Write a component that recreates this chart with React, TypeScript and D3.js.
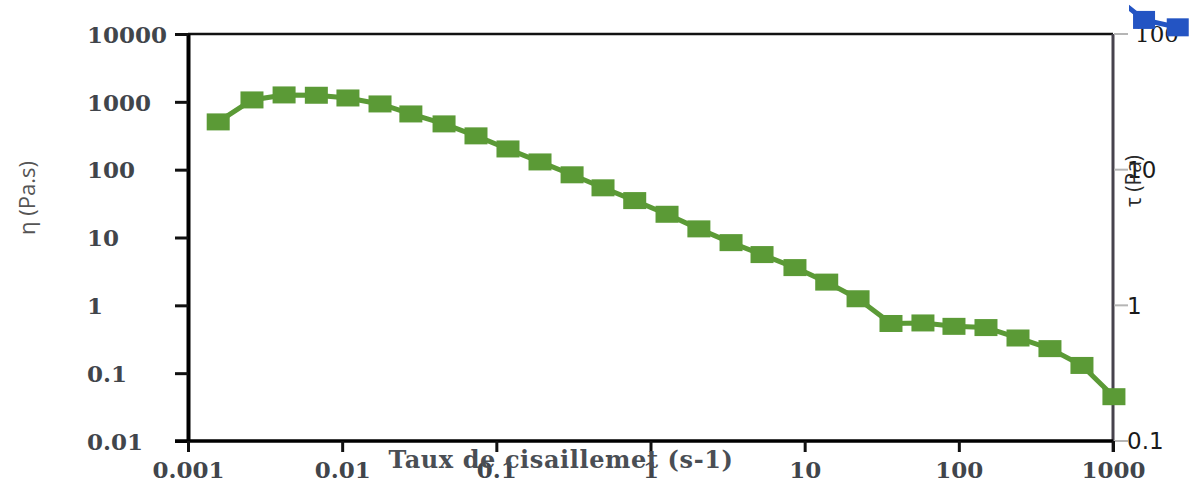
import React from "react";
import * as d3 from "d3";

// shear rate (s-1) and viscosity eta (Pa.s)
const shearRate = [
  0.00157, 0.0026, 0.0042, 0.0068, 0.0109, 0.0176, 0.0279, 0.0458, 0.0738,
  0.119, 0.192, 0.31, 0.492, 0.79, 1.28, 2.06, 3.33, 5.29, 8.65, 13.9, 22.2,
  36.3, 58.5, 93, 150, 242, 390, 629, 1014,
];
const viscosity = [
  506, 1067, 1264, 1250, 1140, 931, 663, 473, 315, 202, 130, 84, 54, 35, 22,
  13.4, 8.4, 5.6, 3.6, 2.2, 1.25, 0.54, 0.55, 0.49, 0.47, 0.33, 0.23, 0.13,
  0.045,
];

// tau series (right axis) - only its start shows, top right corner
const tauShearRate = [1077, 1590, 2630];
const tauStress = [181, 127, 112];

const xTicks = [0.001, 0.01, 0.1, 1, 10, 100, 1000];
const xTickLabels = ["0.001", "0.01", "0.1", "1", "10", "100", "1000"];
const etaTicks = [10000, 1000, 100, 10, 1, 0.1, 0.01];
const etaTickLabels = ["10000", "1000", "100", "10", "1", "0.1", "0.01"];
const tauTicks = [100, 10, 1, 0.1];
const tauTickLabels = ["100", "10", "1", "0.1"];

const xTitle = "Taux de cisaillemet (s-1)";
const etaTitle = "η (Pa.s)";
const tauTitle = "τ (Pa)";

const W = 1192;
const H = 483;

const App = () => {
  const svgRef = React.useRef<SVGSVGElement>(null);

  React.useEffect(() => {
    const svg = d3.select(svgRef.current);
    svg.selectAll("*").remove();

    const left = 188;
    const right = 1113;
    const top = 34;
    const bottom = 441;

    const x = d3.scaleLog().domain([0.001, 1000]).range([left, right]);
    const yEta = d3.scaleLog().domain([0.01, 10000]).range([bottom, top]);
    const yTau = d3.scaleLog().domain([0.1, 100]).range([bottom, top]);

    const serif = "'DejaVu Serif', serif";
    const sans = "'DejaVu Sans', sans-serif";
    const labelColor = "#41454b";

    // top border
    svg
      .append("line")
      .attr("x1", left)
      .attr("x2", right)
      .attr("y1", top)
      .attr("y2", top)
      .attr("stroke", "#111")
      .attr("stroke-width", 2.5);

    // right axis (tau)
    svg
      .append("line")
      .attr("x1", right)
      .attr("x2", right)
      .attr("y1", top)
      .attr("y2", bottom + 11)
      .attr("stroke", "#47434d")
      .attr("stroke-width", 3);

    svg
      .append("g")
      .selectAll("line")
      .data(tauTicks)
      .join("line")
      .attr("x1", right + 1)
      .attr("x2", right + 15)
      .attr("y1", (d) => yTau(d))
      .attr("y2", (d) => yTau(d))
      .attr("stroke", "#b5b5b5")
      .attr("stroke-width", 2);

    // left axis (eta)
    const yAxis = svg
      .append("g")
      .attr("transform", `translate(${left},0)`)
      .call(
        d3
          .axisLeft(yEta)
          .tickValues(etaTicks)
          .tickSize(13)
          .tickSizeOuter(0)
          .tickFormat((d, i) => etaTickLabels[i])
      );
    yAxis.select(".domain").attr("stroke", "#000").attr("stroke-width", 4);
    yAxis.selectAll(".tick line").attr("stroke", "#111").attr("stroke-width", 3);
    yAxis
      .selectAll(".tick text")
      .attr("x", 87 - left)
      .attr("dy", "0.36em")
      .style("text-anchor", "start")
      .style("font-family", serif)
      .style("font-weight", "bold")
      .style("font-size", "23px")
      .attr("fill", labelColor);

    // bottom axis
    const xAxis = svg
      .append("g")
      .attr("transform", `translate(0,${bottom})`)
      .call(
        d3
          .axisBottom(x)
          .tickValues(xTicks)
          .tickSize(11)
          .tickSizeOuter(0)
          .tickFormat((d, i) => xTickLabels[i])
      );
    xAxis
      .select(".domain")
      .attr("d", `M${left - 13},0H${right}`)
      .attr("stroke", "#000")
      .attr("stroke-width", 3.5);
    xAxis.selectAll(".tick line").attr("stroke", "#111").attr("stroke-width", 3);
    xAxis
      .selectAll(".tick text")
      .attr("y", 21)
      .style("font-family", serif)
      .style("font-weight", "bold")
      .style("font-size", "23px")
      .attr("fill", labelColor);

    // series eta
    const pts = shearRate.map((s, i) => [s, viscosity[i]]);
    const line = d3
      .line<number[]>()
      .x((d) => x(d[0]))
      .y((d) => yEta(d[1]));

    svg
      .append("path")
      .datum(pts)
      .attr("d", line)
      .attr("fill", "none")
      .attr("stroke", "#5b9a36")
      .attr("stroke-width", 5)
      .attr("stroke-linejoin", "round");

    svg
      .append("g")
      .selectAll("rect")
      .data(pts)
      .join("rect")
      .attr("x", (d) => x(d[0]) - 11.5)
      .attr("y", (d) => yEta(d[1]) - 8.5)
      .attr("width", 23)
      .attr("height", 17)
      .attr("fill", "#5b9a36");

    // right tick labels
    svg
      .append("g")
      .selectAll("text")
      .data(tauTicks)
      .join("text")
      .attr("x", (d, i) => (i === 0 ? right + 22 : right + 14))
      .attr("y", (d) => yTau(d))
      .attr("dy", "0.36em")
      .style("font-family", (d, i) => (i === 0 ? serif : sans))
      .style("font-size", "23px")
      .attr("fill", "#1a1a1a")
      .text((d, i) => tauTickLabels[i]);

    // series tau, clipped where the picture cuts it
    svg
      .append("clipPath")
      .attr("id", "tauClip")
      .append("rect")
      .attr("x", 1129)
      .attr("y", 0)
      .attr("width", W - 1129)
      .attr("height", H);

    const tauPts = tauShearRate.map((s, i) => [s, tauStress[i]]);
    const tauLine = d3
      .line<number[]>()
      .x((d) => x(d[0]))
      .y((d) => yTau(d[1]));
    const tauG = svg.append("g").attr("clip-path", "url(#tauClip)");
    tauG
      .append("path")
      .datum(tauPts)
      .attr("d", tauLine)
      .attr("fill", "none")
      .attr("stroke", "#2354c3")
      .attr("stroke-width", 5);
    tauG
      .selectAll("rect")
      .data(tauPts)
      .join("rect")
      .attr("x", (d) => x(d[0]) - 11)
      .attr("y", (d) => yTau(d[1]) - 9)
      .attr("width", 22)
      .attr("height", 18)
      .attr("fill", "#2354c3");

    // titles
    svg
      .append("text")
      .attr("x", 561)
      .attr("y", 468)
      .style("text-anchor", "middle")
      .style("font-family", serif)
      .style("font-weight", "bold")
      .style("font-size", "24px")
      .style("letter-spacing", "0.6px")
      .attr("fill", "#4a4e54")
      .text(xTitle);

    svg
      .append("text")
      .attr("transform", `translate(27,198) rotate(-90)`)
      .attr("dy", "0.36em")
      .style("text-anchor", "middle")
      .style("font-family", "'Open Sans', sans-serif")
      .style("font-size", "22px")
      .attr("fill", "#555")
      .text(etaTitle);

    svg
      .append("text")
      .attr("transform", `translate(1133,181) rotate(-90)`)
      .attr("dy", "0.36em")
      .style("text-anchor", "middle")
      .style("font-family", "'Open Sans', sans-serif")
      .style("font-size", "21px")
      .attr("fill", "#2a2a2a")
      .text(tauTitle);
  }, []);

  return (
    <svg
      ref={svgRef}
      width={W}
      height={H}
      style={{ position: "absolute", left: 0, top: 0, background: "#fff" }}
    />
  );
};

export default App;
